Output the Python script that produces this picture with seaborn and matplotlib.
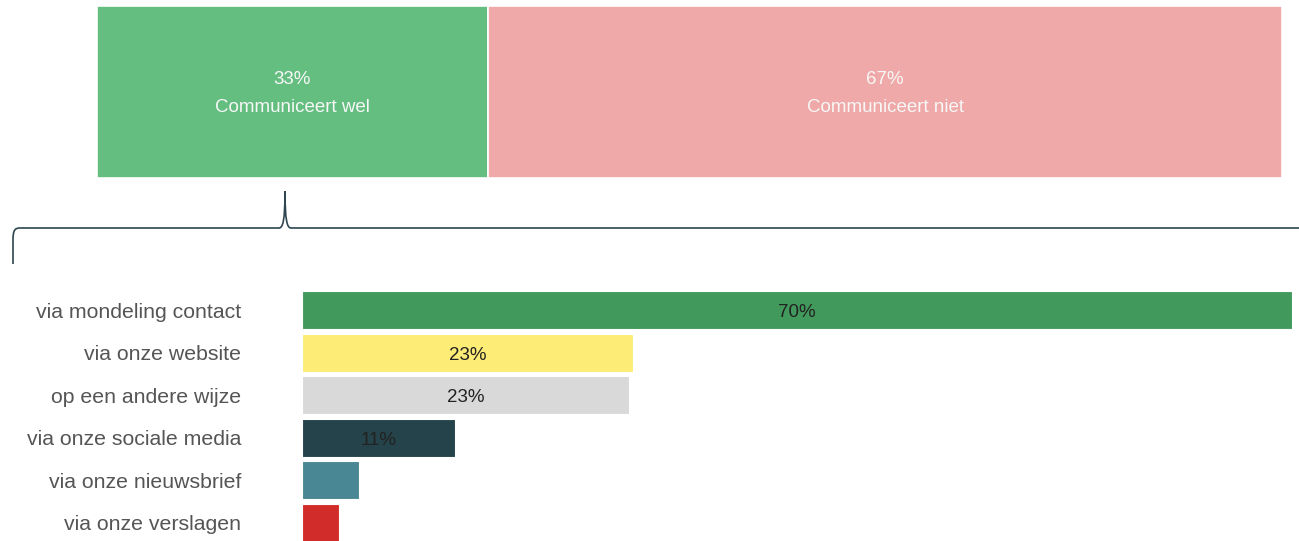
import matplotlib
matplotlib.use("Agg")
import matplotlib.pyplot as plt
from matplotlib.path import Path
from matplotlib.patches import PathPatch
import seaborn as sns
import pandas as pd

# ---- data ----
top_categories = ["Communiceert wel", "Communiceert niet"]
top_values = [33, 67]
top_colors = ["#64BE80", "#EFA9A8"]

categories = ["via mondeling contact", "via onze website", "op een andere wijze",
              "via onze sociale media", "via onze nieuwsbrief", "via onze verslagen"]
values = [70, 23.4, 23.1, 10.8, 4.0, 2.6]
colors = ["#419A5C", "#FDEC76", "#D9D9D9", "#25434A", "#4A8794", "#D22C2A"]

sns.set_theme(style="white")
plt.rcParams["font.family"] = ["Liberation Sans", "DejaVu Sans"]

W, H = 1299, 541
PT = 72 / 100  # points per pixel
fig = plt.figure(figsize=(W / 100, H / 100), dpi=100)

# ---- top stacked bar ----
ax1 = fig.add_axes([97 / W, (H - 178) / H, 1185 / W, 172 / H])
left = 0
for cat, v, c in zip(top_categories, top_values, top_colors):
    ax1.barh([0], [v], left=left, height=1.0, color=c, edgecolor="white", linewidth=1.2)
    ax1.annotate(f"{v}%", (left + v / 2, 0), xytext=(0, 14 * PT), textcoords="offset points",
                 ha="center", va="center_baseline", color="#F7F7F7", fontsize=13.5)
    ax1.annotate(cat, (left + v / 2, 0), xytext=(0, -14 * PT), textcoords="offset points",
                 ha="center", va="center_baseline", color="#F7F7F7", fontsize=13.5)
    left += v
ax1.set_xlim(0, sum(top_values))
ax1.set_ylim(-0.5, 0.5)
ax1.axis("off")

# ---- bottom bar chart ----
top_px, bot_px = 288.7, 544.3
ax2 = fig.add_axes([302 / W, (H - bot_px) / H, 990 / W, (bot_px - top_px) / H])
df = pd.DataFrame({"category": categories, "value": values})
sns.barplot(data=df, x="value", y="category", hue="category", palette=colors,
            legend=False, ax=ax2, width=0.89, edgecolor="white", linewidth=0.8,
            saturation=1)
for i, v in enumerate(values):
    if v >= 8:
        ax2.annotate(f"{v:.0f}%", (v / 2, i), xytext=(0, -2.5 * PT), textcoords="offset points",
                     ha="center", va="center", color="#222222", fontsize=13.5)
ax2.set_xlim(0, 70)
ax2.set_ylim(5.5, -0.5)
ax2.set_xlabel("")
ax2.set_ylabel("")
ax2.set_xticks([])
for s in ax2.spines.values():
    s.set_visible(False)
ax2.tick_params(axis="y", length=0, pad=44, labelsize=15.3, labelcolor="#555555")

# ---- brace ----
axo = fig.add_axes([0, 0, 1, 1], zorder=-1)
axo.set_xlim(0, W)
axo.set_ylim(H, 0)
axo.axis("off")
verts = [(13, 264), (13, 240), (13, 230), (15, 228), (20, 228),
         (279, 228), (283, 228), (285, 220), (285, 191),
         (285, 220), (287, 228), (291, 228), (1320, 228)]
codes = [Path.MOVETO, Path.LINETO, Path.CURVE4, Path.CURVE4, Path.CURVE4,
         Path.LINETO, Path.CURVE4, Path.CURVE4, Path.CURVE4,
         Path.CURVE4, Path.CURVE4, Path.CURVE4, Path.LINETO]
axo.add_patch(PathPatch(Path(verts, codes), facecolor="none",
                        edgecolor="#2E4650", linewidth=1.2))

fig.savefig("out.png", dpi=100, facecolor="white")
